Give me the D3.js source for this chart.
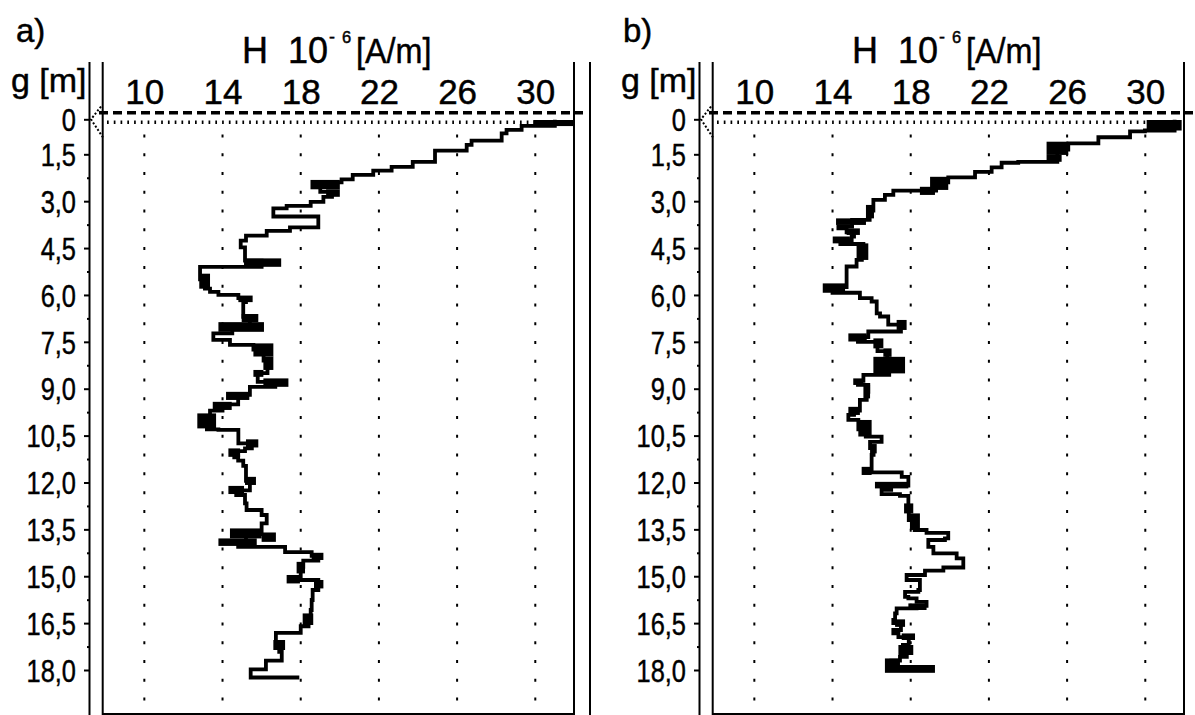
<!DOCTYPE html>
<html>
<head>
<meta charset="utf-8">
<script src="https://cdn.jsdelivr.net/npm/d3@7"></script>
<style>
  body { margin: 0; background: #fff; }
  text { font-family: "Liberation Sans", Arial, sans-serif; fill: #000; stroke: #000; stroke-width: 0.45px; }
</style>
</head>
<body>
<svg id="chart" width="1195" height="715"></svg>
<script>
// Magnetic field strength H (10^-6 A/m) against depth g (m) for two boreholes.
const hTicks = [10, 14, 18, 22, 26, 30];
const depthTicks = [0, 1.5, 3, 4.5, 6, 7.5, 9, 10.5, 12, 13.5, 15, 16.5, 18];
const depthTickLabels = ["0", "1,5", "3,0", "4,5", "6,0", "7,5", "9,0", "10,5", "12,0", "13,5", "15,0", "16,5", "18,0"];
const minorDepthTicks = [2.25, 3.75, 5.25, 6.75, 8.25, 9.75, 11.25, 12.75, 14.25, 15.75, 17.25];

// Profile a): depth where each reading starts, and the reading
const depthA = [0.10, 0.28, 0.45, 0.60, 0.91, 1.10, 1.34, 1.74, 1.90, 2.02, 2.16, 2.30, 2.40, 2.70, 2.86, 3.02, 3.15, 3.23, 3.49, 3.84,
  3.95, 4.10, 4.26, 4.48, 4.90, 5.10, 5.50, 5.80, 5.90, 6.00, 6.10, 6.23, 6.70, 7.00, 7.23, 7.44, 7.60, 7.75, 8.10, 8.50,
  8.78, 8.94, 9.20, 9.50, 9.70, 10.00, 10.30, 10.32, 10.75, 10.91, 11.00, 11.20, 11.30, 11.47, 11.95, 12.25, 12.40, 12.67, 12.88, 13.04,
  13.31, 13.65, 13.90, 14.06, 14.23, 14.35, 14.50, 14.70, 15.05, 15.12, 15.44, 15.76, 16.08, 16.35, 16.60, 16.81, 17.20, 17.42, 17.70, 17.98,
  18.24];
const hA = [31.0, 29.3, 28.53, 28.28, 26.74, 26.49, 24.87, 23.73, 22.65, 21.71, 20.66, 20.09, 19.0, 19.6, 19.16, 18.51, 17.28, 16.6, 18.9, 17.45,
  16.26, 15.2, 14.93, 15.15, 16.0, 12.85, 13.1, 13.36, 13.79, 14.81, 15.2, 15.06, 15.4, 14.5, 13.53, 14.38, 15.58, 16.1, 16.3, 15.8,
  16.7, 15.4, 14.8, 14.0, 13.36, 13.2, 13.79, 14.81, 15.5, 15.15, 14.6, 14.8, 15.06, 15.2, 15.4, 14.7, 15.15, 15.23, 16.0, 16.26,
  16.0, 15.2, 14.8, 17.2, 18.56, 18.9, 18.13, 18.0, 17.6, 18.9, 18.61, 18.56, 18.51, 18.4, 18.0, 16.73, 16.9, 17.03, 16.22, 15.44,
  17.83];
// Intervals of rapid fluctuation a): [top depth, bottom depth, min H, max H]
const bandsA = [
  [0.03, 0.29, 29.9, 31.98], [2.32, 2.62, 18.5, 20.0], [2.62, 2.86, 19.3, 20.0], [4.83, 5.10, 15.1, 17.0],
  [5.32, 5.80, 12.81, 13.36], [6.02, 6.23, 14.81, 15.54], [6.61, 6.87, 14.98, 15.83], [6.87, 7.18, 13.79, 16.12],
  [7.55, 7.97, 15.58, 16.6], [7.97, 8.40, 16.09, 16.6], [8.40, 8.62, 15.58, 16.09], [8.67, 8.94, 16.09, 17.37],
  [9.10, 9.36, 14.18, 15.37], [9.42, 9.68, 13.5, 14.47], [9.79, 10.27, 12.71, 13.67], [10.62, 10.88, 15.2, 15.83],
  [10.91, 11.18, 14.3, 14.9], [11.82, 12.08, 15.15, 15.71], [12.11, 12.37, 14.3, 15.1], [13.47, 13.79, 14.38, 16.0],
  [13.60, 13.90, 16.0, 16.73], [13.79, 14.03, 13.79, 15.75], [14.25, 14.48, 18.56, 19.16], [14.54, 14.91, 17.79, 18.22],
  [14.96, 15.23, 17.28, 17.96], [15.12, 15.39, 18.68, 19.16], [16.19, 16.56, 18.1, 18.64], [17.04, 17.36, 16.6, 17.2]
];

// Profile b)
const depthB = [0.10, 0.48, 0.52, 0.77, 1.03, 1.30, 1.74, 1.77, 1.92, 2.06, 2.24, 2.40, 2.66, 2.80, 2.96, 3.30, 3.60, 3.81, 3.87, 4.00,
  4.13, 4.25, 4.37, 4.60, 4.88, 5.09, 5.75, 5.93, 6.10, 6.21, 6.59, 6.69, 6.95, 7.17, 7.35, 7.50, 7.80, 8.20, 8.56, 8.75,
  8.88, 9.10, 9.36, 9.70, 9.84, 10.00, 10.30, 10.53, 10.70, 10.90, 11.12, 11.60, 11.68, 11.82, 12.10, 12.24, 12.37, 12.43, 12.80, 13.20,
  13.52, 13.61, 13.79, 13.84, 14.06, 14.27, 14.43, 14.72, 14.82, 14.96, 15.12, 15.44, 15.50, 15.66, 15.71, 15.82, 15.95, 16.03, 16.19, 16.40,
  16.50, 16.72, 16.83, 16.95, 17.20, 17.40, 17.58, 17.70, 17.95];
const hB = [31.5, 29.98, 29.22, 27.60, 26.06, 25.5, 23.50, 22.65, 22.14, 21.29, 19.92, 19.3, 17.11, 16.68, 16.09, 15.9, 15.0, 14.30, 14.72, 15.1,
  14.98, 14.4, 15.58, 15.5, 15.23, 14.72, 14.0, 15.40, 16.00, 16.26, 16.43, 16.85, 17.5, 15.83, 15.3, 16.3, 16.8, 16.9, 15.58, 15.3,
  15.83, 15.75, 15.40, 15.1, 14.81, 15.32, 15.7, 16.51, 15.92, 16.1, 16.00, 15.7, 17.54, 17.88, 17.0, 16.51, 17.45, 17.88, 17.9, 18.2,
  18.81, 19.92, 19.75, 18.90, 19.16, 20.35, 20.69, 19.67, 18.73, 17.79, 18.47, 18.39, 17.71, 17.88, 18.30, 18.81, 18.3, 17.28, 17.20, 17.11,
  17.5, 17.11, 17.37, 17.9, 17.6, 17.8, 17.45, 17.0, 18.0];
const bandsB = [
  [0.03, 0.48, 30.07, 31.86], [0.96, 1.52, 24.95, 26.06], [1.52, 1.74, 24.95, 25.72], [2.22, 2.64, 18.99, 19.92],
  [2.54, 2.80, 18.47, 19.24], [3.12, 3.55, 15.71, 16.12], [3.55, 3.76, 14.18, 15.71], [3.87, 4.08, 14.72, 15.40],
  [4.13, 4.35, 14.01, 14.89], [4.35, 4.88, 15.23, 15.83], [5.63, 5.93, 13.50, 14.64], [6.80, 7.12, 17.28, 17.79],
  [7.23, 7.49, 14.81, 15.75], [7.39, 7.71, 16.09, 16.60], [7.71, 7.98, 16.60, 17.02], [7.98, 8.51, 16.09, 17.71],
  [8.67, 8.88, 15.06, 15.58], [8.88, 9.31, 15.58, 15.92], [9.58, 9.84, 14.81, 15.40], [10.00, 10.53, 15.32, 16.00],
  [10.77, 11.07, 15.92, 16.26], [11.50, 11.76, 15.49, 16.00], [11.98, 12.19, 16.17, 17.88], [12.67, 12.99, 17.66, 18.13],
  [12.99, 13.52, 17.96, 18.47], [15.87, 16.08, 17.88, 18.81], [16.38, 16.62, 17.20, 17.71], [16.83, 17.04, 17.54, 18.22],
  [17.20, 17.52, 17.37, 18.13], [17.63, 17.84, 16.68, 17.45], [17.84, 18.09, 16.68, 19.24]
];

const svg = d3.select("#chart");
svg.append("rect").attr("width", 1195).attr("height", 715).attr("fill", "#fff");

// Layout of one panel (panel b is the same, shifted right)
const axisX = 89.5, plotLeft = 102.7, plotRight = 574, outerRight = 590;
const frameTop = 62, frameBottom = 716, baseY = 714;
const labelSqueeze = 0.82;

const x = d3.scaleLinear().domain([7.87, 31.98]).range([plotLeft, plotRight]);
const y = d3.scaleLinear().domain([0, 1.5, 18]).range([119.3, 154.3, 670]);

const panels = [
  { tag: "a)", tagX: 16, dx: 0, depth: depthA, h: hA, bands: bandsA },
  { tag: "b)", tagX: 13, dx: 610, depth: depthB, h: hB, bands: bandsB }
];

const profileLine = d3.line()
  .x(d => x(d[1]))
  .y(d => y(d[0]))
  .curve(d3.curveStepBefore);

panels.forEach(p => {
  const g = svg.append("g").attr("transform", `translate(${p.dx},0)`);

  // vertical dotted grid at the H ticks
  g.append("g").selectAll("line").data(hTicks).join("line")
    .attr("x1", d => x(d)).attr("x2", d => x(d))
    .attr("y1", 134.5).attr("y2", 701)
    .attr("stroke", "#000").attr("stroke-width", 2)
    .attr("stroke-dasharray", "3,15.77");

  // fine dotted row just below the surface
  g.append("line")
    .attr("x1", 107).attr("x2", 572).attr("y1", 122.3).attr("y2", 122.3)
    .attr("stroke", "#000").attr("stroke-width", 3.4)
    .attr("stroke-dasharray", "1.7,5.07");

  // dashed ground-surface line
  g.append("line")
    .attr("x1", 99).attr("x2", 583).attr("y1", 112.8).attr("y2", 112.8)
    .attr("stroke", "#000").attr("stroke-width", 3.5)
    .attr("stroke-dasharray", "9,5");

  // frame
  const frame = [
    [axisX, frameTop, axisX, frameBottom],
    [plotLeft, frameTop, plotLeft, frameBottom],
    [plotRight, frameTop, plotRight, frameBottom],
    [outerRight, frameTop, outerRight, frameBottom],
    [plotLeft, baseY, plotRight, baseY]
  ];
  g.append("g").selectAll("line").data(frame).join("line")
    .attr("x1", d => d[0]).attr("y1", d => d[1]).attr("x2", d => d[2]).attr("y2", d => d[3])
    .attr("stroke", "#000").attr("stroke-width", 2);

  // surface marker
  g.append("path")
    .attr("d", `M101,106.5 L91,${y(0)} L103,137.5`)
    .attr("fill", "none").attr("stroke", "#000").attr("stroke-width", 2)
    .attr("stroke-dasharray", "2,2");

  // profile curve
  g.append("path")
    .datum(d3.zip(p.depth, p.h))
    .attr("d", profileLine)
    .attr("fill", "none").attr("stroke", "#000").attr("stroke-width", 3.8)
    .attr("stroke-linejoin", "miter").attr("stroke-linecap", "square");

  // bands of rapid fluctuation
  g.append("g").selectAll("rect").data(p.bands).join("rect")
    .attr("x", d => x(d[2])).attr("y", d => y(d[0]))
    .attr("width", d => x(d[3]) - x(d[2]))
    .attr("height", d => y(d[1]) - y(d[0]))
    .attr("fill", "#000");

  // depth axis
  const yAxis = g.append("g").attr("transform", `translate(${axisX},0)`)
    .call(d3.axisLeft(y).tickValues(depthTicks)
      .tickFormat((d, i) => depthTickLabels[i]).tickSize(5.5).tickPadding(8));
  yAxis.select(".domain").remove();
  yAxis.selectAll("line").attr("stroke", "#000").attr("stroke-width", 2);
  yAxis.selectAll("text").attr("font-size", 31).attr("dy", "0.36em")
    .attr("x", -13.5 / labelSqueeze)
    .attr("transform", `scale(${labelSqueeze},1)`)
    .style("font-family", '"Liberation Sans", Arial, sans-serif');

  const yMinor = g.append("g").attr("transform", `translate(${axisX},0)`)
    .call(d3.axisLeft(y).tickValues(minorDepthTicks).tickFormat("").tickSize(2.5));
  yMinor.select(".domain").remove();
  yMinor.selectAll("line").attr("stroke", "#000").attr("stroke-width", 2);

  // H axis labels
  const xAxis = g.append("g").attr("transform", "translate(0,107)")
    .call(d3.axisTop(x).tickValues(hTicks).tickSize(0).tickPadding(3));
  xAxis.select(".domain").remove();
  xAxis.selectAll("text").attr("font-size", 35)
    .style("font-family", '"Liberation Sans", Arial, sans-serif');

  // titles
  g.append("text").attr("x", p.tagX).attr("y", 42).attr("font-size", 33).text(p.tag);
  g.append("text").attr("x", 11).attr("y", 92).attr("font-size", 34).text("g [m]");
  const t = g.append("text").attr("y", 63).attr("font-size", 36);
  t.append("tspan").attr("x", 242).text("H");
  t.append("tspan").attr("x", 288).text("10");
  t.append("tspan").attr("x", 329).attr("y", 43).attr("font-size", 18).text("-");
  t.append("tspan").attr("x", 342).attr("y", 43).attr("font-size", 16.5).text("6");
  t.append("tspan").attr("x", 356).attr("y", 63).attr("font-size", 35)
    .attr("textLength", 75.5).attr("lengthAdjust", "spacingAndGlyphs").text("[A/m]");
});
</script>
</body>
</html>
